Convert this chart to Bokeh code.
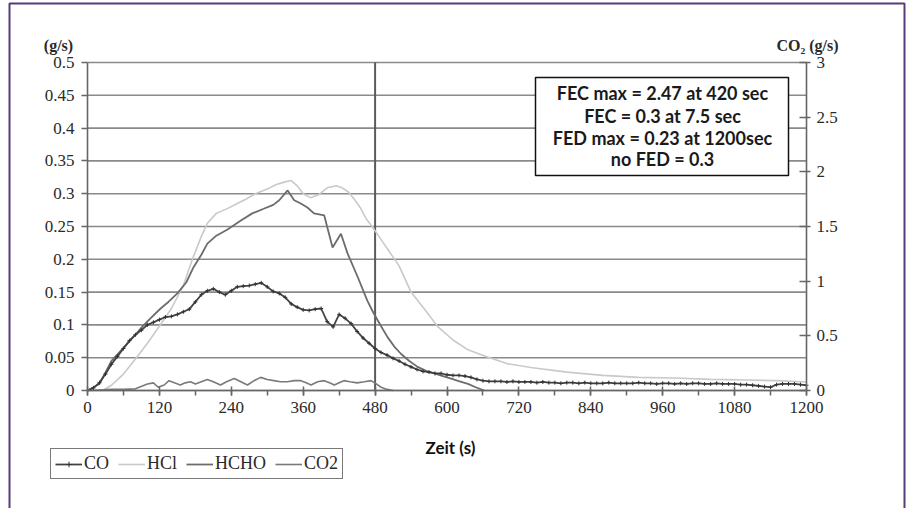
from bokeh.plotting import figure
from bokeh.models import (LinearAxis, Range1d, Label, BoxAnnotation, Legend,
                          LegendItem, FixedTicker)
from bokeh.embed import file_html
from bokeh.resources import INLINE

# ---------------- data ----------------
co_t = list(range(0, 1201, 10))
co_v = [0, 0.004, 0.012, 0.025, 0.04, 0.052, 0.064, 0.076, 0.085, 0.092,
        0.1, 0.104, 0.108, 0.112, 0.113, 0.116, 0.12, 0.124, 0.135, 0.146,
        0.152, 0.155, 0.15, 0.146, 0.152, 0.158, 0.159, 0.16, 0.162, 0.164,
        0.158, 0.151, 0.148, 0.142, 0.132, 0.127, 0.123, 0.122, 0.124, 0.125,
        0.105, 0.097, 0.116, 0.11, 0.102, 0.09, 0.08, 0.072, 0.064, 0.058,
        0.054, 0.049, 0.045, 0.04, 0.036, 0.032, 0.029, 0.028, 0.026, 0.026,
        0.024, 0.023, 0.023, 0.022, 0.02, 0.017, 0.015, 0.014, 0.014, 0.014,
        0.013, 0.014, 0.013, 0.013, 0.013, 0.012, 0.013, 0.012, 0.012, 0.011,
        0.012, 0.012, 0.011, 0.012, 0.011, 0.011, 0.011, 0.012, 0.011, 0.011,
        0.011, 0.011, 0.012, 0.011, 0.011, 0.01, 0.011, 0.011, 0.01, 0.011,
        0.01, 0.011, 0.011, 0.01, 0.01, 0.011, 0.01, 0.01, 0.01, 0.009,
        0.009, 0.008, 0.007, 0.006, 0.005, 0.009, 0.01, 0.01, 0.01, 0.009,
        0.008]

hcl_t = [0, 25, 40, 60, 80, 100, 120, 140, 160, 175, 190, 200, 215, 235, 250,
         265, 280, 300, 315, 330, 340, 350, 360, 372, 385, 400, 415, 425, 435,
         445, 455, 465, 475, 490, 505, 520, 540, 560, 585, 610, 635, 665, 700,
         740, 800, 860, 920, 980, 1040, 1100, 1150, 1200]
hcl_v = [0, 0, 0.008, 0.025, 0.048, 0.072, 0.098, 0.125, 0.16, 0.2, 0.235,
         0.255, 0.27, 0.278, 0.285, 0.292, 0.3, 0.307, 0.314, 0.318, 0.32,
         0.312, 0.3, 0.294, 0.298, 0.309, 0.312, 0.309, 0.303, 0.292, 0.279,
         0.262, 0.25, 0.23, 0.21, 0.19, 0.15, 0.127, 0.097, 0.077, 0.062,
         0.052, 0.041, 0.035, 0.028, 0.023, 0.02, 0.019, 0.017, 0.016, 0.015,
         0.013]

hcho_t = [0, 20, 40, 60, 80, 90, 105, 122, 135, 150, 165, 177, 190, 200, 215,
          233, 256, 275, 294, 310, 320, 334, 345, 356, 367, 378, 395, 409, 423,
          434, 451, 467, 478, 490, 501, 512, 523, 537, 551, 565, 579, 593, 607,
          621, 635, 648, 662]
hcho_v = [0, 0.01, 0.045, 0.065, 0.085, 0.096, 0.11, 0.125, 0.135, 0.148,
          0.165, 0.188, 0.207, 0.224, 0.236, 0.245, 0.259, 0.27, 0.277, 0.283,
          0.29, 0.305, 0.29, 0.285, 0.279, 0.27, 0.267, 0.218, 0.239, 0.209,
          0.173, 0.137, 0.117, 0.098, 0.081, 0.067, 0.056, 0.045, 0.036, 0.03,
          0.026, 0.022, 0.018, 0.014, 0.01, 0.005, 0]

co2_t = [0, 20, 40, 60, 80, 100, 110, 118, 128, 136, 145, 155, 163, 172, 180,
         190, 200, 210, 222, 232, 245, 256, 267, 278, 289, 300, 311, 322, 334,
         345, 356, 365, 373, 384, 395, 404, 412, 420, 428, 438, 450, 462, 473,
         482, 490, 500, 510]
co2_v = [0, 0.005, 0.01, 0.01, 0.015, 0.06, 0.07, 0.03, 0.05, 0.09, 0.07,
         0.05, 0.07, 0.08, 0.06, 0.08, 0.1, 0.08, 0.05, 0.08, 0.11, 0.08, 0.05,
         0.09, 0.12, 0.1, 0.09, 0.08, 0.08, 0.09, 0.09, 0.07, 0.05, 0.08, 0.09,
         0.07, 0.05, 0.07, 0.09, 0.08, 0.07, 0.08, 0.09, 0.06, 0.03, 0.01, 0]

x_ticks = list(range(0, 1201, 120))
x_minor_ticks = list(range(0, 1201, 60))
y_ticks = [0, 0.05, 0.1, 0.15, 0.2, 0.25, 0.3, 0.35, 0.4, 0.45, 0.5]
y_tick_labels = ["0", "0.05", "0.1", "0.15", "0.2", "0.25", "0.3", "0.35", "0.4", "0.45", "0.5"]
y2_ticks = [0, 0.5, 1, 1.5, 2, 2.5, 3]
y2_tick_labels = ["0", "0.5", "1", "1.5", "2", "2.5", "3"]
marker_t = [480]          # vertical reference line (s)

x_min, x_max = 0, 1200
y_min, y_max = 0, 0.5
y2_min, y2_max = 0, 3

box_lines = ["FEC max = 2.47 at 420 sec", "FEC = 0.3 at 7.5 sec",
             "FED max = 0.23 at 1200sec", "no FED = 0.3"]

# ---------------- layout (pixels) ----------------
W, H = 909, 508
PX_L, PX_R, PX_T, PX_B = 87, 806, 62, 390   # plot area in canvas pixels

sx = (PX_R - PX_L) / (x_max - x_min)
sy = (PX_B - PX_T) / (y_max - y_min)
sy2 = (PX_B - PX_T) / (y2_max - y2_min)

xr = Range1d(x_min - PX_L / sx, x_max + (W - PX_R) / sx)
yr = Range1d(y_min - (H - PX_B) / sy, y_max + PX_T / sy)
y2r = Range1d(y2_min - (H - PX_B) / sy2, y2_max + PX_T / sy2)

def px_x(px):   # canvas px -> x data
    return x_min + (px - PX_L) / sx

def px_y(py):   # canvas px (from top) -> y data
    return y_min + (PX_B - py) / sy

SERIF = "Liberation Serif"
TXT = "#2a2a2a"
AX = "#666666"

p = figure(width=W, height=H, output_backend="svg", toolbar_location=None,
           x_range=xr, y_range=yr, x_axis_location=None, y_axis_location=None,
           min_border=0, background_fill_color="white",
           border_fill_color="white", outline_line_color=None)
p.extra_y_ranges = {"co2": y2r}
p.xgrid.visible = False
p.ygrid.visible = False

# horizontal grid lines (from the tick list)
p.segment(x0=[x_min] * len(y_ticks), x1=[x_max] * len(y_ticks), y0=y_ticks, y1=y_ticks,
          line_color="#8a8a8a", line_width=1.6)

def style(ax):
    ax.axis_line_color = AX
    ax.axis_line_width = 1.6
    ax.major_tick_line_color = AX
    ax.major_tick_line_width = 1.5
    ax.minor_tick_line_color = AX
    ax.minor_tick_line_width = 1.5
    ax.major_label_text_font = SERIF
    ax.major_label_text_font_size = "17px"
    ax.major_label_text_color = TXT

xaxis = LinearAxis(fixed_location=y_min, bounds=(x_min, x_max),
                   ticker=FixedTicker(ticks=x_ticks, minor_ticks=x_minor_ticks))
style(xaxis)
xaxis.major_tick_in = 4
xaxis.major_tick_out = 5
xaxis.minor_tick_in = 0
xaxis.minor_tick_out = 5
xaxis.major_label_standoff = 6
p.add_layout(xaxis, "below")

yaxis = LinearAxis(fixed_location=x_min, bounds=(y_min, y_max),
                   ticker=FixedTicker(ticks=y_ticks))
yaxis.major_label_overrides = {t: l for t, l in zip(y_ticks, y_tick_labels)}
style(yaxis)
yaxis.major_tick_in = 0
yaxis.major_tick_out = 6
yaxis.minor_tick_line_color = None
yaxis.major_label_standoff = 7
p.add_layout(yaxis, "left")

ax2 = LinearAxis(y_range_name="co2", fixed_location=x_max, bounds=(y2_min, y2_max),
                 ticker=FixedTicker(ticks=y2_ticks))
ax2.major_label_overrides = {t: l for t, l in zip(y2_ticks, y2_tick_labels)}
style(ax2)
ax2.major_tick_in = 7
ax2.major_tick_out = 4
ax2.minor_tick_line_color = None
ax2.major_label_standoff = 6
p.add_layout(ax2, "right")

# vertical marker at 480 s
p.segment(x0=marker_t, x1=marker_t, y0=[y_min], y1=[y_max], line_color="#5a5a5a", line_width=2)

# series
r_hcl = p.line(hcl_t, hcl_v, line_color="#c9c9c9", line_width=1.6)
r_hcho = p.line(hcho_t, hcho_v, line_color="#6c6c6c", line_width=1.8)
r_co2 = p.line(co2_t, co2_v, line_color="#7a7a7a", line_width=1.6, y_range_name="co2")
r_co = p.line(co_t, co_v, line_color="#444444", line_width=1.8)
r_com = p.scatter(co_t, co_v, marker="cross", size=4, line_color="#333333", line_width=1)

legend = Legend(items=[LegendItem(label="CO", renderers=[r_co, r_com]),
                       LegendItem(label="HCl", renderers=[r_hcl]),
                       LegendItem(label="HCHO", renderers=[r_hcho]),
                       LegendItem(label="CO2", renderers=[r_co2])],
                orientation="horizontal", location=(50, H - 479),
                label_text_font=SERIF, label_text_font_size="18px",
                label_text_color=TXT, glyph_width=27, glyph_height=14,
                label_standoff=2, spacing=9, padding=4, margin=0,
                border_line_color="#7a7a7a", border_line_width=1.2, border_line_alpha=1,
                background_fill_color="white", background_fill_alpha=1)
p.add_layout(legend, "center")

# axis titles
p.add_layout(Label(x=px_x(58), y=px_y(45), text="(g/s)", text_font=SERIF, text_font_size="16px",
                   text_font_style="bold", text_color=TXT, text_align="center",
                   text_baseline="middle"))
p.add_layout(Label(x=px_x(807), y=px_y(45), text="CO\u2082 (g/s)", text_font=SERIF,
                   text_font_size="16px", text_font_style="bold", text_color=TXT,
                   text_align="center", text_baseline="middle"))
p.add_layout(Label(x=px_x(450), y=px_y(447), text="Zeit (s)", text_font="Lato",
                   text_font_size="17px", text_font_style="bold", text_color="#111111",
                   text_align="center", text_baseline="middle"))

# annotation box
p.add_layout(BoxAnnotation(left=px_x(535), right=px_x(788), top=px_y(77), bottom=px_y(175),
                           fill_color="white", fill_alpha=1, line_color="#111111",
                           line_alpha=1, line_width=1.5))
for txt, py in zip(box_lines, [92, 115, 137, 158]):
    p.add_layout(Label(x=px_x(662), y=px_y(py), text=txt, text_font="Lato",
                       text_font_size="18px", text_font_style="bold", text_color="#1a1a1a",
                       text_align="center", text_baseline="middle"))

# outer purple frame
p.add_layout(BoxAnnotation(left=9, right=904, top=3, bottom=540,
                           left_units="canvas", right_units="canvas",
                           top_units="canvas", bottom_units="canvas",
                           fill_alpha=0, line_color="#5b3a78", line_alpha=1, line_width=2))

open("out.html", "w").write(file_html(p, INLINE))
